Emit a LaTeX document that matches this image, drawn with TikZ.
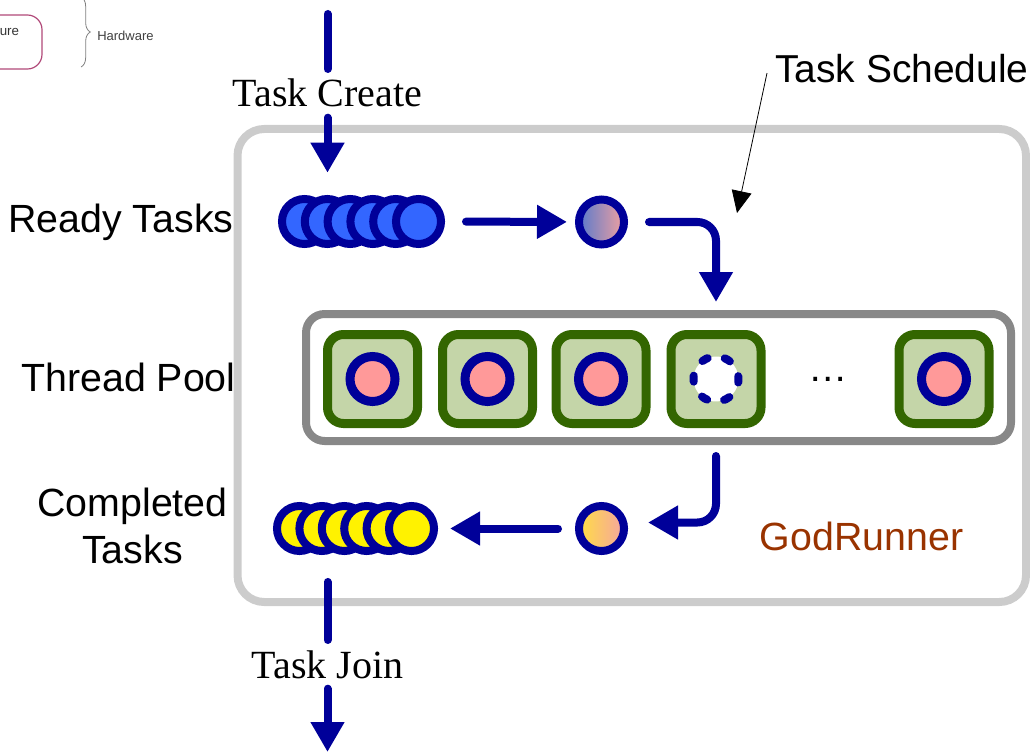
\documentclass[tikz,border=0pt]{standalone}
\usepackage{fontspec}
\setmainfont{Liberation Serif}
\newfontfamily\lsans{Liberation Sans}
\usetikzlibrary{arrows.meta,fit,decorations.pathreplacing,calc}
\definecolor{dkblue}{HTML}{000099}
\definecolor{readyblue}{HTML}{3366FF}
\definecolor{taskpink}{HTML}{FF9999}
\definecolor{thgreen}{HTML}{336600}
\definecolor{thfill}{HTML}{C4D5A8}
\definecolor{outergray}{HTML}{CCCCCC}
\definecolor{poolgray}{HTML}{888888}
\definecolor{godbrown}{HTML}{993300}
\definecolor{infopink}{HTML}{B04878}
\definecolor{selblue}{HTML}{5A7ACC}
\definecolor{selpink}{HTML}{F0A0A0}
\definecolor{doneorange}{HTML}{FFDD44}
\definecolor{donepink}{HTML}{F5A5A0}
\begin{document}
\begin{tikzpicture}[x=0.75pt,y=-0.75pt,
  outerbox/.style={draw=outergray, line width=6pt, rounded corners=20pt},
  poolbox/.style={draw=poolgray, line width=6pt, rounded corners=14pt},
  thread/.style={rectangle, draw=thgreen, fill=thfill, line width=6.75pt, rounded corners=12pt, minimum width=67.5pt, minimum height=66.75pt, inner sep=0pt},
  task/.style={circle, draw=dkblue, fill=taskpink, line width=6.75pt, minimum size=33.75pt, inner sep=0pt},
  emptytask/.style={circle, draw=dkblue, fill=white, line width=6pt, line cap=round, dash pattern=on 4.5pt off 13.1pt, minimum size=33.75pt, inner sep=0pt},
  rtask/.style={circle, draw=dkblue, fill=readyblue, line width=6pt, minimum size=33.75pt, inner sep=0pt},
  dtask/.style={circle, draw=dkblue, fill=yellow, line width=6pt, minimum size=33.75pt, inner sep=0pt},
  seltask/.style={circle, draw=dkblue, line width=6pt, minimum size=33.75pt, inner sep=0pt},
  lab/.style={font=\lsans\fontsize{29.5}{35}\selectfont, inner sep=0pt},
  sertext/.style={font=\fontsize{30}{36}\selectfont, inner sep=7.5pt},
  flow/.style={draw=dkblue, line width=6pt, line cap=round, -{Triangle[length=22.5pt,width=24pt]}},
  plainflow/.style={draw=dkblue, line width=6pt, line cap=round}
]
\useasboundingbox (0,0) rectangle (1030,752);
\clip (0,0) rectangle (1030,752);

% top-left fragment
\draw[infopink, line width=0.9pt, rounded corners=11pt] (-40,15) rectangle (42,69);
\node[anchor=base west, font=\lsans\fontsize{10}{12}\selectfont, text=black!80, inner sep=0pt] (ure) at (-0.5,36) {ure};
\draw[decorate, decoration={brace, amplitude=7pt}, draw=gray, line width=0.6pt] (81,-3) -- (81,67);
\node[anchor=base west, font=\lsans\fontsize{9.75}{12}\selectfont, text=black!75, inner sep=0pt] (hw) at (97,41) {Hardware};

% containers
\draw[outerbox] (237.5,129) rectangle (1026,602);
\draw[poolbox] (306,314) rectangle (1011,441);

% labels
\node[lab, anchor=base] (readylab) at (121,233) {Ready Tasks};
\node[lab, anchor=base] (poollab) at (128.5,391) {Thread Pool};
\node[lab, anchor=base] (donelab1) at (132.5,516) {Completed};
\node[lab, anchor=base] (donelab2) at (132.5,563) {Tasks};
\node[lab, anchor=base, text=godbrown] (god) at (861.5,550) {GodRunner};
\node[lab, anchor=base west, font=\lsans\fontsize{29.2}{35}\selectfont] (sched) at (775,83) {Task Schedule};

% ready queue
\foreach \i in {1,...,6} {
  \node[rtask] (r\i) at ({304.5+22.8*(\i-1)},221.5) {};
}
\node[fit=(r1)(r6), inner sep=0pt] (readyq) {};
\node[seltask, left color=selblue, right color=selpink] (sel) at (601.5,222) {};

% thread pool
\node[thread] (t1) at (372.5,379) {};
\node[thread] (t2) at (487.5,379) {};
\node[thread] (t3) at (601,379) {};
\node[thread] (t4) at (716,379) {};
\node[thread] (t5) at (944,379) {};
\node[task] (c1) at (t1) {};
\node[task] (c2) at (t2) {};
\node[task] (c3) at (t3) {};
\node[emptytask, rotate=-8] (c4) at (t4) {};
\node[task] (c5) at (t5) {};
\node[lab, anchor=base] (dots) at (828.5,381) {\dots};

% completed queue
\foreach \i in {1,...,6} {
  \node[dtask] (d\i) at ({299.5+22.4*(\i-1)},528.5) {};
}
\node[fit=(d1)(d6), inner sep=0pt] (doneq) {};
\node[seltask, left color=doneorange, right color=donepink] (dsel) at (601.5,528.5) {};

% Task Create
\coordinate (tcTop) at (327.5,14);
\node[sertext, anchor=base] (tc) at (327.5,107) {Task Create};
\draw[plainflow] (tcTop) -- (tc);
\draw[flow, shorten >=16.5pt] (tc) -- (tc |- readyq.north);

% Task Join
\node[sertext, anchor=base] (tj) at (327.5,678) {Task Join};
\coordinate (tjEnd) at (327.5,752);
\draw[plainflow, shorten <=20pt] (tj |- doneq.south) -- (tj);
\draw[flow] (tj) -- (tjEnd);

% flow arrows
\draw[flow, shorten <=15.75pt, shorten >=6pt] (r6) -- (sel);
\draw[flow, rounded corners=14pt, shorten <=15.75pt, shorten >=21pt] (sel) -| (t4);
\draw[flow, rounded corners=14pt, shorten <=21pt, shorten >=15pt] (t4) |- ([yshift=4.5pt]dsel.east);
\draw[flow, shorten <=12.75pt, shorten >=9pt] (dsel) -- (d6);

% scheduler pointer
\coordinate (schedTip) at (737,213);
\draw[black, line width=0.6pt, -{Triangle[length=16.5pt,width=15pt]}] ([xshift=-6pt,yshift=-3pt]sched.west) -- (schedTip);
\end{tikzpicture}
\end{document}
